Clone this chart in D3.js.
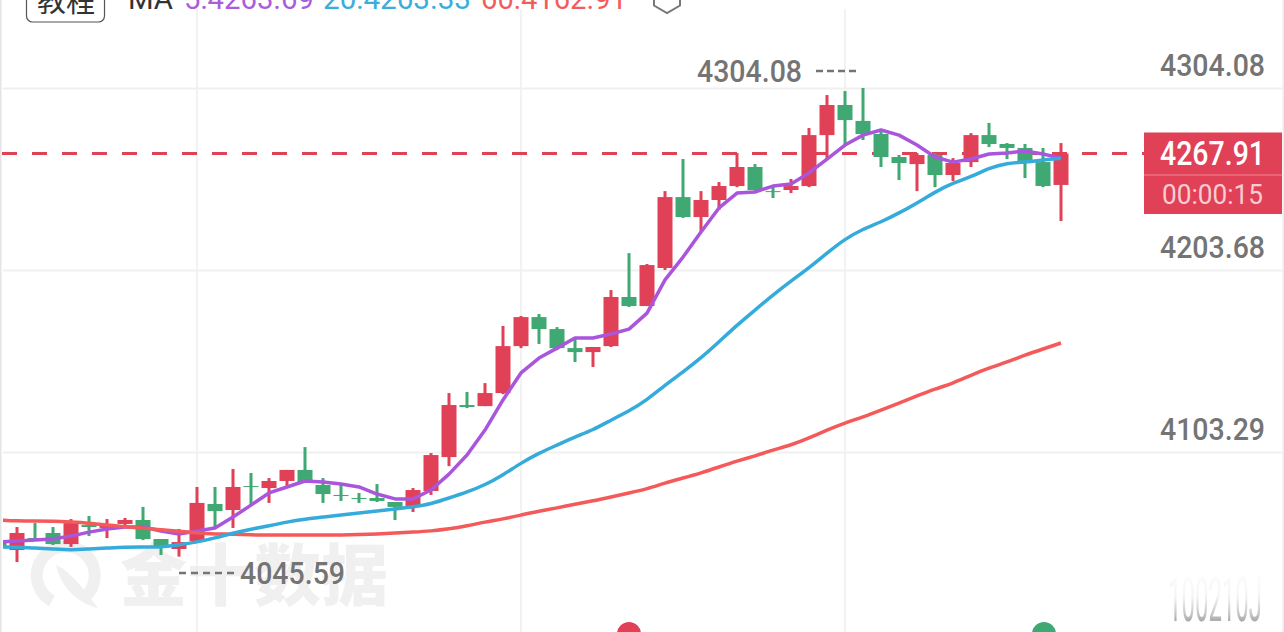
<!DOCTYPE html>
<html><head><meta charset="utf-8">
<script src="https://cdn.jsdelivr.net/npm/d3@7/dist/d3.min.js"></script>
<style>html,body{margin:0;padding:0;background:#fff;overflow:hidden}svg{display:block}</style>
</head><body><svg id="c" width="1284" height="632"></svg>
<script>
const opens=[4053.6,4049.2,4055.8,4058.6,4052.5,4063.0,4061.4,4063.6,4065.8,4055.3,4049.8,4054.2,4074.6,4071.3,4084.5,4083.4,4087.3,4093.4,4085.1,4079.6,4077.9,4077.9,4075.7,4073.5,4081.8,4100.5,4129.2,4128.6,4135.8,4161.7,4177.7,4171.1,4160.6,4158.4,4161.7,4188.8,4183.8,4204.8,4243.9,4232.9,4242.3,4250.0,4260.5,4247.2,4247.8,4250.0,4278.1,4294.7,4285.9,4278.7,4266.0,4262.1,4267.1,4256.1,4263.2,4278.1,4273.2,4271.0,4263.2,4250.6];
const highs=[4053.6,4061.9,4064.1,4061.9,4066.3,4068.0,4066.3,4066.9,4073.0,4055.3,4060.8,4084.0,4084.0,4093.9,4091.7,4088.9,4093.4,4106.0,4088.9,4085.1,4080.7,4085.6,4075.7,4083.4,4102.7,4135.8,4136.4,4141.3,4172.8,4178.3,4179.4,4172.2,4166.7,4161.2,4192.6,4213.0,4207.0,4247.2,4264.9,4247.2,4252.2,4268.2,4262.1,4250.6,4253.9,4282.0,4300.2,4302.4,4304.08,4280.9,4267.1,4268.2,4268.2,4265.4,4279.2,4284.8,4273.7,4273.2,4271.0,4273.7];
const lows=[4050.3,4042.6,4054.2,4052.0,4050.9,4056.9,4055.8,4061.9,4054.7,4046.5,4045.59,4054.2,4061.4,4061.4,4074.0,4075.2,4084.5,4086.7,4075.2,4076.3,4075.2,4075.7,4065.8,4070.2,4079.6,4095.5,4127.5,4128.6,4135.2,4160.6,4162.9,4159.5,4152.9,4150.2,4161.2,4183.3,4183.8,4203.7,4232.4,4224.6,4236.8,4249.4,4246.7,4243.4,4246.1,4249.4,4264.4,4273.2,4275.4,4260.5,4253.3,4247.2,4249.4,4252.8,4260.5,4271.5,4264.9,4254.4,4249.4,4230.7];
const closes=[4050.3,4058.6,4054.2,4052.5,4064.1,4061.9,4063.6,4065.8,4055.3,4050.9,4053.6,4075.2,4070.7,4084.0,4084.0,4087.3,4093.4,4086.7,4080.1,4079.0,4077.4,4076.3,4073.0,4082.3,4101.6,4129.2,4128.1,4135.8,4161.7,4177.7,4171.1,4160.6,4158.4,4161.2,4188.8,4183.8,4206.4,4243.9,4232.9,4242.3,4250.0,4260.5,4247.8,4246.7,4250.0,4278.1,4294.7,4286.4,4278.7,4266.0,4262.7,4267.1,4256.1,4262.7,4278.1,4273.2,4271.0,4263.8,4250.0,4267.91];
const ma5=[4053.6,4054.2,4054.7,4055.3,4056.9,4059.1,4060.8,4061.9,4061.9,4059.7,4058.0,4059.7,4061.4,4067.4,4074.0,4080.7,4084.0,4087.3,4086.7,4085.6,4084.0,4080.1,4077.4,4077.4,4082.3,4091.1,4101.6,4115.4,4132.0,4146.9,4155.1,4160.6,4166.2,4166.2,4168.4,4171.1,4179.9,4198.2,4210.8,4224.6,4237.9,4246.1,4246.7,4250.0,4251.1,4257.2,4264.9,4272.6,4278.1,4280.9,4278.1,4272.6,4266.0,4263.2,4264.9,4267.7,4268.2,4269.3,4267.7,4265.4];
const ma20=[4050.9,4050.9,4050.3,4049.8,4049.2,4049.8,4050.3,4050.9,4050.9,4050.9,4052.0,4053.6,4055.8,4058.6,4060.8,4062.5,4064.7,4066.3,4067.4,4068.5,4069.6,4070.7,4071.8,4073.0,4074.6,4077.9,4081.2,4085.1,4090.6,4097.2,4102.7,4107.1,4111.6,4115.4,4120.9,4125.9,4132.0,4140.2,4147.4,4155.1,4164.0,4173.3,4181.6,4189.9,4197.6,4204.8,4213.0,4220.8,4226.3,4230.1,4235.1,4240.6,4246.7,4251.7,4255.0,4259.9,4262.7,4263.2,4264.4,4265.4];
const ma60=[4065.8,4065.2,4065.2,4065.2,4064.7,4064.1,4063.0,4061.9,4061.4,4060.3,4059.7,4058.6,4058.0,4058.0,4057.5,4057.5,4057.5,4057.5,4057.5,4057.5,4057.7,4058.0,4058.6,4059.1,4059.7,4060.8,4062.5,4064.7,4066.3,4068.5,4070.7,4072.4,4074.6,4076.3,4078.5,4080.7,4082.9,4086.2,4088.9,4091.7,4095.0,4098.3,4101.1,4104.4,4107.1,4111.0,4115.4,4119.3,4122.6,4126.4,4130.3,4134.2,4138.0,4141.3,4145.7,4149.6,4152.9,4156.8,4160.1,4163.4];
const yTicks=[4304.08,4203.68,4103.29];
const xGridIdx=[10,28,46];
const lastPrice=4267.91, maxPrice=4304.08, minPrice=4045.59;
const countdown="00:00:15";
const legendItems=[["MA",128,45,"#333"],["5:4263.69",184,130,"#a95cdc"],["20:4263.33",323,148,"#3aaedb"],["60:4162.91",481,146,"#f45c5c"]];

const RED="#e04157",GREEN="#3fa873",GREY="#747474";
const svg=d3.select("#c");
const x=d3.scaleLinear().domain([0,58]).range([17,1061]);
const y=d3.scaleLinear().domain([4103.29,4304.08]).range([452,88]);
const defs=svg.append("defs");
defs.append("clipPath").attr("id","plot").append("rect").attr("x",3).attr("y",0).attr("width",1141).attr("height",632);
const fade=defs.append("linearGradient").attr("id","fade").attr("x1",0).attr("x2",0).attr("y1",0).attr("y2",1);
fade.append("stop").attr("offset","0").attr("stop-color","#aaa").attr("stop-opacity",0);
fade.append("stop").attr("offset","0.45").attr("stop-color","#aaa").attr("stop-opacity",.12);
fade.append("stop").attr("offset","0.75").attr("stop-color","#888").attr("stop-opacity",.6);
fade.append("stop").attr("offset","1").attr("stop-color","#555").attr("stop-opacity",1);
defs.append("filter").attr("id","soft").append("feGaussianBlur").attr("stdDeviation","0.7");

// frame edges
svg.append("rect").attr("x",0).attr("y",0).attr("width",1.5).attr("height",632).attr("fill","#e4e4e4");
svg.append("rect").attr("x",1282.5).attr("y",0).attr("width",1.5).attr("height",632).attr("fill","#ececec");

// watermark
const wm=svg.append("g").attr("fill","#f0f0f0");
wm.append("path").attr("d","M84 598 A29 29 0 1 0 52 601").attr("fill","none").attr("stroke","#f0f0f0").attr("stroke-width",12);
wm.append("path").attr("d","M56 565 C72 572 84 590 98 608 C80 604 62 590 56 565 Z");
wm.append("text").attr("x",120).attr("y",600).attr("font-family","'Noto Sans CJK SC'").attr("font-weight",900).attr("font-size",67).text("金十数据");
svg.append("text").attr("x",1168).attr("y",621).attr("font-family","Roboto").attr("font-size",62).attr("filter","url(#soft)")
  .attr("textLength",94).attr("lengthAdjust","spacingAndGlyphs").attr("fill","url(#fade)").text("100210J");

// grid
svg.append("g").attr("stroke","#e5e5e5").attr("stroke-width",1).selectAll("line").data(xGridIdx).join("line")
  .attr("x1",d=>x(d)).attr("x2",d=>x(d)).attr("y1",9).attr("y2",632);
const axis=d3.axisRight(y).tickValues(yTicks).tickSize(1279).tickFormat(d3.format(".2f"));
const gA=svg.append("g").attr("transform","translate(3,0)").call(axis);
gA.select(".domain").remove();
gA.selectAll("line").attr("stroke","#f0f0f0").attr("stroke-width",2);
gA.selectAll("text").attr("x",1262).attr("dy",-13).attr("text-anchor","end")
  .attr("font-family","Roboto").attr("font-weight",500).attr("font-size",32).attr("fill",GREY)
  .attr("textLength",105).attr("lengthAdjust","spacingAndGlyphs");

// last price dashed line
svg.append("line").attr("x1",2).attr("x2",1144).attr("y1",y(lastPrice)).attr("y2",y(lastPrice))
  .attr("stroke",RED).attr("stroke-width",3).attr("stroke-dasharray","15 15");

// candles
const plot=svg.append("g").attr("clip-path","url(#plot)");
const idx=d3.range(-1,59);
const g=plot.append("g").selectAll("g").data(idx).join("g")
  .attr("fill",(d,i)=>closes[i]>=opens[i]?RED:GREEN);
g.append("rect").attr("x",d=>x(d)-1.5).attr("width",3)
  .attr("y",(d,i)=>y(highs[i])).attr("height",(d,i)=>y(lows[i])-y(highs[i]));
g.append("rect").attr("x",d=>x(d)-7.5).attr("width",15)
  .attr("y",(d,i)=>y(Math.max(opens[i],closes[i])))
  .attr("height",(d,i)=>Math.max(1,Math.abs(y(opens[i])-y(closes[i]))));

// moving averages
const line=d3.line().x((d,i)=>x(idx[i])).y(d=>y(d));
[[ma5,"#a955dc",d3.curveLinear],[ma60,"#f45a5a",d3.curveBasis],[ma20,"#34abdb",d3.curveBasis]].forEach(([s,c,k])=>{
  plot.append("path").attr("d",line.curve(k)(s)).attr("fill","none").attr("stroke",c).attr("stroke-width",3.5).attr("stroke-linejoin","round");
});

// max / min annotations
const ann=svg.append("g").attr("font-family","Roboto").attr("font-weight",500).attr("font-size",32).attr("fill",GREY);
ann.append("text").attr("x",697).attr("y",y(maxPrice)-6).attr("textLength",105).attr("lengthAdjust","spacingAndGlyphs").text(maxPrice.toFixed(2));
svg.append("line").attr("x1",816).attr("x2",858).attr("y1",71).attr("y2",71).attr("stroke",GREY).attr("stroke-width",2.5).attr("stroke-dasharray","7 4");
ann.append("text").attr("x",240).attr("y",584).attr("textLength",105).attr("lengthAdjust","spacingAndGlyphs").text(minPrice.toFixed(2));
svg.append("line").attr("x1",179).attr("x2",234).attr("y1",573).attr("y2",573).attr("stroke",GREY).attr("stroke-width",2.5).attr("stroke-dasharray","7 5");

// price tag
svg.append("rect").attr("x",1144).attr("y",132.5).attr("width",138).attr("height",81.5).attr("fill",RED);
svg.append("rect").attr("x",1144).attr("y",174.5).attr("width",138).attr("height",1).attr("fill","#f08a98");
svg.append("text").attr("x",1160).attr("y",165).attr("font-family","Roboto").attr("font-weight",500).attr("font-size",33).attr("fill","#fff")
  .attr("textLength",105).attr("lengthAdjust","spacingAndGlyphs").text(lastPrice.toFixed(2));
svg.append("text").attr("x",1162).attr("y",204).attr("font-family","Roboto").attr("font-size",28).attr("fill","#f9ccd2")
  .attr("textLength",101).attr("lengthAdjust","spacingAndGlyphs").text(countdown);

// header (cut by the top edge)
svg.append("rect").attr("x",26.5).attr("y",-20).attr("width",78).attr("height",42).attr("rx",6).attr("fill","#fff").attr("stroke","#555").attr("stroke-width",1.2);
svg.append("text").attr("x",37).attr("y",12).attr("font-family","'Noto Sans CJK SC'").attr("font-size",29).attr("fill","#333").text("教程");
svg.append("g").attr("font-family","Roboto").attr("font-size",30).selectAll("text").data(legendItems).join("text")
  .attr("x",d=>d[1]).attr("y",9).attr("textLength",d=>d[2]).attr("lengthAdjust","spacingAndGlyphs").attr("fill",d=>d[3]).text(d=>d[0]);
svg.append("path").attr("d","M654 -10 L654 5.5 L667 13 L680 5.5 L680 -10").attr("fill","none").attr("stroke","#777").attr("stroke-width",2);

// bottom markers
svg.append("circle").attr("cx",629).attr("cy",634).attr("r",12).attr("fill",RED);
svg.append("circle").attr("cx",1044).attr("cy",634).attr("r",12).attr("fill",GREEN);
</script></body></html>
